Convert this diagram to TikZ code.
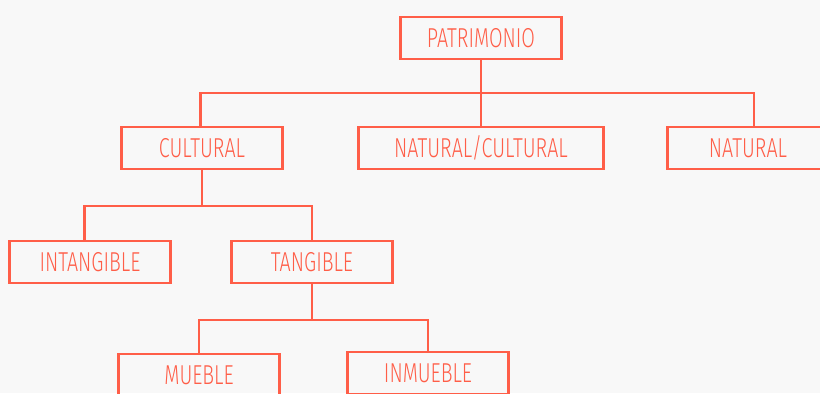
\documentclass[tikz,border=0pt]{standalone}
\usepackage{fontspec}
\setmainfont{Fira Sans}[UprightFont=* Light, FakeStretch=0.72]
\definecolor{coral}{RGB}{255,94,72}
\definecolor{paper}{RGB}{248,248,248}

\begin{document}
\begin{tikzpicture}[x=0.75pt,y=-0.75pt,font=\fontsize{20.5}{22}\selectfont,
		box/.style={draw=coral,text=coral,line width=2.2pt,minimum width=120.5pt,minimum height=31.5pt,inner sep=0pt},
		link/.style={draw=coral,line width=2.2pt}]
		\fill[paper] (0,0) rectangle (820,393);
		\useasboundingbox (0,0) rectangle (820,393);

		\node[box] (pat) at (481,38) {PATRIMONIO};
		\node[box] (cul) at (202,148) {CULTURAL};
		\node[box, minimum width=184pt] (natcul) at (481,148) {NATURAL/CULTURAL};
		\node[box] (nat) at (748,148) {NATURAL};
		\node[box] (intg) at (90,262) {INTANGIBLE};
		\node[box] (tang) at (312,262) {TANGIBLE};
		\node[box] (mueb) at (199,375) {MUEBLE};
		\node[box] (inmu) at (428,373) {INMUEBLE};

		\coordinate (j1) at (pat.south |- 0,93);
		\coordinate (j2) at (cul.south |- 0,206);
		\coordinate (j3) at (tang.south |- 0,320);

		\draw[link] (pat.south) -- (j1);
		\draw[link] ([xshift=-1pt]cul.north) |- (j1) -| ([xshift=4.5pt]nat.north);
		\draw[link] (j1) -- (natcul.north);

		\draw[link] (cul.south) -- (j2);
		\draw[link] ([xshift=-4pt]intg.north) |- (j2) -| (tang.north);

		\draw[link] (tang.south) -- (j3);
		\draw[link] (mueb.north) |- (j3) -| (inmu.north);
	\end{tikzpicture}
\end{document}
